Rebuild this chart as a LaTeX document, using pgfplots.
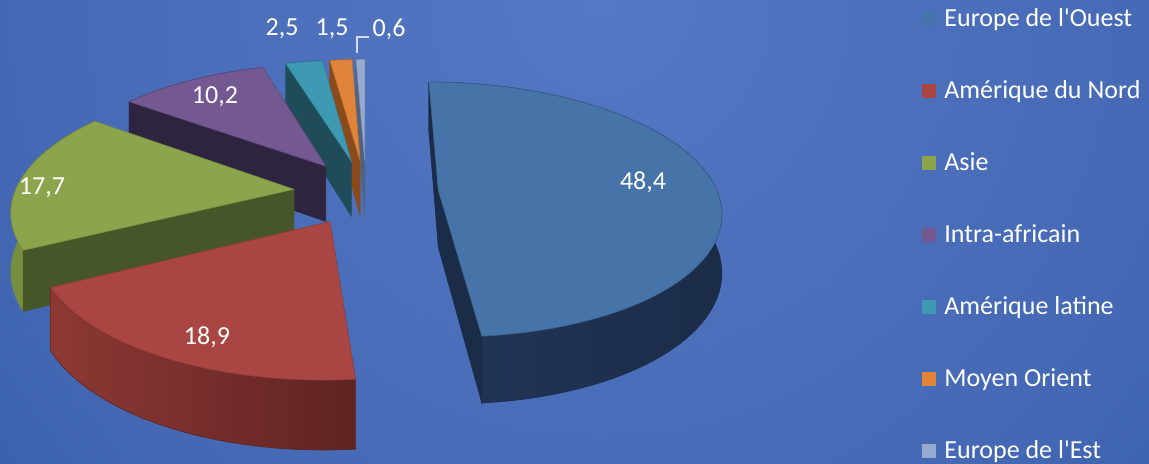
\documentclass[border=0pt]{standalone}
\usepackage{pgfplots}
\usepackage{pgfplotstable}
\pgfplotsset{compat=1.18}
\usepackage{fontspec}
\setmainfont{Carlito}

\definecolor{bg0}{RGB}{84,120,196}
\definecolor{bg1}{RGB}{68,104,180}
\definecolor{bg2}{RGB}{52,90,166}
\definecolor{bg3}{RGB}{44,80,156}
\definecolor{bg4}{RGB}{30,62,134}
\definecolor{bg5}{RGB}{26,56,126}
\pgfdeclareradialshading{bgshade}{\pgfpoint{0bp}{0bp}}{%
 color(0bp)=(bg0); color(19bp)=(bg1); color(28bp)=(bg2); color(37bp)=(bg3); color(46bp)=(bg4); color(50bp)=(bg5)}

\definecolor{cBlue}{RGB}{70,116,168}
\definecolor{cBlueW}{RGB}{27,44,72}
\definecolor{cBlueWL}{RGB}{34,54,88}
\definecolor{cBlueR}{RGB}{26,44,72}
\definecolor{cRed}{RGB}{169,69,66}
\definecolor{cRedWL}{RGB}{142,56,52}
\definecolor{cRedWR}{RGB}{94,36,33}
\definecolor{cGreen}{RGB}{140,165,76}
\definecolor{cGreenW}{RGB}{118,142,62}
\definecolor{cGreenR}{RGB}{70,86,40}
\definecolor{cPurple}{RGB}{115,88,146}
\definecolor{cPurpleW}{RGB}{60,46,80}
\definecolor{cPurpleR}{RGB}{46,36,64}
\definecolor{cTeal}{RGB}{62,154,178}
\definecolor{cTealW}{RGB}{30,80,95}
\definecolor{cTealR}{RGB}{31,76,88}
\definecolor{cOrange}{RGB}{224,132,58}
\definecolor{cOrangeW}{RGB}{140,75,28}
\definecolor{cOrangeR}{RGB}{138,74,28}
\definecolor{cGrey}{RGB}{150,170,208}
\definecolor{cGreyW}{RGB}{80,98,126}
\definecolor{cGreyR}{RGB}{82,98,126}

% shares (%), in the order of the legend
\pgfplotstableread{
share
48.4
18.9
17.7
10.2
2.5
1.5
0.6
}\piedata

% view parameters (pixels of the picture)
\def\pex{0.26}\def\pk{0.15}\def\pRx{279}\def\pRy{125}\def\pdep{57}
\def\pcx{366}\def\pcy{272}

\newcommand\proj[4]{% angle, radius, mid angle, drop -> \PX,\PY
 \pgfmathsetmacro\pu{#2*sin(#1)+\pex*sin(#3)}%
 \pgfmathsetmacro\pv{#2*cos(#1)+\pex*cos(#3)}%
 \pgfmathsetmacro\pw{1+\pk*\pv}%
 \pgfmathsetmacro\PX{\pcx+\pRx*\pu/\pw}%
 \pgfmathsetmacro\PY{\pcy+(\pRy*\pv-\pdep*#4)/\pw}%
}

% #1 index, #2 top, #3 wall style, #4 radial start colour, #5 show start, #6 radial end colour, #7 show end
\newcommand\pieslice[7]{%
 \edef\slA{\csname ps#1\endcsname}\edef\slB{\csname pe#1\endcsname}%
 \pgfmathsetmacro\slM{(\slA+\slB)/2}%
 \pgfmathtruncatemacro\slN{max(2,ceil((\slB-\slA)/2))}%
 % outer wall
 \gdef\plist{}%
 \foreach \j in {0,...,\slN}{\pgfmathsetmacro\pang{\slA+(\slB-\slA)*\j/\slN}\proj{\pang}{1}{\slM}{0}\xdef\plist{\plist (\PX,\PY)}}%
 \foreach \j in {\slN,...,0}{\pgfmathsetmacro\pang{\slA+(\slB-\slA)*\j/\slN}\proj{\pang}{1}{\slM}{1}\xdef\plist{\plist (\PX,\PY)}}%
 \edef\tmp{\noexpand\addplot[forget plot,#3,line width=0.3pt] coordinates {\plist} -- cycle;}\tmp
 % radial faces
 \ifnum#5=1
  \proj{\slA}{0}{\slM}{0}\edef\qa{(\PX,\PY)}%
  \proj{\slA}{1}{\slM}{0}\edef\qb{(\PX,\PY)}%
  \proj{\slA}{1}{\slM}{1}\edef\qc{(\PX,\PY)}%
  \proj{\slA}{0}{\slM}{1}\edef\qd{(\PX,\PY)}%
  \edef\tmp{\noexpand\addplot[forget plot,fill=#4,draw=#4,line width=0.3pt] coordinates {\qa\qb\qc\qd} -- cycle;}\tmp
 \fi
 \ifnum#7=1
  \proj{\slB}{0}{\slM}{0}\edef\qa{(\PX,\PY)}%
  \proj{\slB}{1}{\slM}{0}\edef\qb{(\PX,\PY)}%
  \proj{\slB}{1}{\slM}{1}\edef\qc{(\PX,\PY)}%
  \proj{\slB}{0}{\slM}{1}\edef\qd{(\PX,\PY)}%
  \edef\tmp{\noexpand\addplot[forget plot,fill=#6,draw=#6,line width=0.3pt] coordinates {\qa\qb\qc\qd} -- cycle;}\tmp
 \fi
 % top face
 \proj{0}{0}{\slM}{0}\xdef\plist{(\PX,\PY)}%
 \foreach \j in {0,...,\slN}{\pgfmathsetmacro\pang{\slA+(\slB-\slA)*\j/\slN}\proj{\pang}{1}{\slM}{0}\xdef\plist{\plist (\PX,\PY)}}%
 \edef\tmp{\noexpand\addplot[forget plot,fill=#2,draw=#2!85!black,line width=0.3pt] coordinates {\plist} -- cycle;}\tmp
}

\begin{document}
\begin{tikzpicture}
% cumulative angles (clockwise from 12 o'clock)
\pgfplotstablegetrowsof{\piedata}\pgfmathtruncatemacro\pn{\pgfplotsretval-1}
\xdef\ptot{0}
\foreach \i in {0,...,\pn}{\pgfplotstablegetelem{\i}{share}\of\piedata\pgfmathsetmacro\tmpv{\ptot+\pgfplotsretval}\xdef\ptot{\tmpv}}
\xdef\pcum{0}
\foreach \i in {0,...,\pn}{\pgfplotstablegetelem{\i}{share}\of\piedata
 \pgfmathsetmacro\tmpa{\pcum}\pgfmathsetmacro\tmpb{\pcum+\pgfplotsretval/\ptot*360}%
 \expandafter\xdef\csname ps\i\endcsname{\tmpa}\expandafter\xdef\csname pe\i\endcsname{\tmpb}\xdef\pcum{\tmpb}}

% background
\begin{scope}
\clip (0,0) rectangle (574.5pt,232pt);
\shade[shading=bgshade] (300pt,232pt) circle (400pt);
\end{scope}

\begin{axis}[
  x=0.5pt, y=0.5pt, xmin=0, xmax=1149, ymin=0, ymax=464,
  enlargelimits=false, hide axis, clip=false,
  legend image code/.code={\fill[#1] (0pt,-3.5pt) rectangle (7pt,3.5pt);},
  legend cell align=left,
  legend style={at={(axis cs:916,461)}, anchor=north west, draw=none, fill=none,
    text=white, font=\fontsize{13}{15}\selectfont, row sep=24pt, column sep=4pt,
    nodes={inner sep=0pt, text height=9.5pt, text depth=2.5pt}},
]
\addlegendimage{fill=cBlue,draw=none}
\addlegendimage{fill=cRed,draw=none}
\addlegendimage{fill=cGreen,draw=none}
\addlegendimage{fill=cPurple,draw=none}
\addlegendimage{fill=cTeal,draw=none}
\addlegendimage{fill=cOrange,draw=none}
\addlegendimage{fill=cGrey,draw=none}
\legend{Europe de l\textquotesingle Ouest,Amérique du Nord,Asie,Intra-africain,Amérique latine,Moyen Orient,Europe de l\textquotesingle Est}

\pieslice{6}{cGrey}{fill=cGreyW,draw=cGreyW}{cGreyR}{1}{cGreyR}{0}
\pieslice{5}{cOrange}{fill=cOrangeW,draw=cOrangeW}{cOrangeR}{1}{cOrangeR}{0}
\pieslice{4}{cTeal}{fill=cTealW,draw=cTealW}{cTealR}{1}{cTealR}{0}
\pieslice{3}{cPurple}{fill=cPurpleW,draw=cPurpleW}{cPurpleR}{1}{cPurpleR}{0}
\pieslice{0}{cBlue}{left color=cBlueWL,right color=cBlueW,draw=cBlueW}{cBlueR}{1}{cBlueR}{1}
\pieslice{2}{cGreen}{fill=cGreenW,draw=cGreenW}{cGreenR}{1}{cGreenR}{0}
\pieslice{1}{cRed}{left color=cRedWL,right color=cRedWR,draw=cRedWR}{cRedWR}{0}{cRedWR}{0}

\begin{scope}[every node/.style={text=white,font=\fontsize{13}{15}\selectfont}]
\node at (axis cs:643,282) {48,4};
\node at (axis cs:207,127) {18,9};
\node at (axis cs:42,276) {17,7};
\node at (axis cs:215,367) {10,2};
\node at (axis cs:282,435) {2,5};
\node at (axis cs:332,435) {1,5};
\node at (axis cs:389,435) {0,6};
\end{scope}
\draw[white!85!blue,line width=0.8pt] (axis cs:357,411) -- (axis cs:357,427) -- (axis cs:369,427);
\end{axis}
\pgfresetboundingbox
\path (0,0) rectangle (574.5pt,232pt);
\end{tikzpicture}
\end{document}
